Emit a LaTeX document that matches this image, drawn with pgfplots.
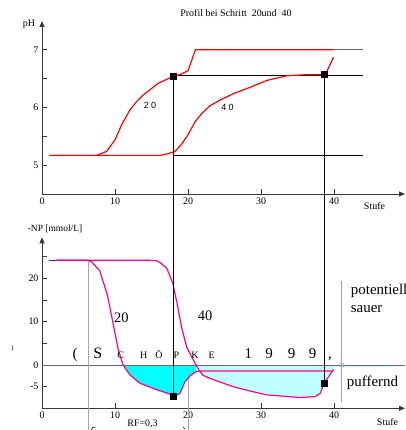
\documentclass[border=0pt]{standalone}
\usepackage{fontspec}
\setmainfont{Liberation Serif}
\newfontfamily\sansf{Liberation Sans}
\usepackage{pgfplots}
\pgfplotsset{compat=1.18}
\usetikzlibrary{arrows.meta}
\definecolor{redc}{RGB}{255,0,0}
\definecolor{pinkc}{RGB}{255,0,140}
\definecolor{purpc}{RGB}{120,20,140}
\definecolor{cyanA}{RGB}{0,255,255}
\definecolor{cyanB}{RGB}{192,255,255}
\definecolor{grayl}{RGB}{165,165,165}
\definecolor{grayd}{RGB}{105,105,105}
\definecolor{axisc}{RGB}{55,55,55}

\pgfplotsset{
  profil/.style={
    scale only axis, anchor=south west, axis lines=left,
    axis line style={axisc, line width=0.9pt, -{Triangle[length=6bp,width=5bp]}},
    tick align=inside, major tick length=5bp, minor tick length=5bp,
    tick style={axisc, line width=0.8pt},
    tick label style={font=\fontsize{10}{12}\selectfont, text=black},
    xmin=0, xmax=49.7, width=363bp, clip=false,
    xtick={0,10,20,30,40}, xticklabels={0,10,20,30,40},
  },
}

\begin{document}
\begin{tikzpicture}
\useasboundingbox (0,0) rectangle (406bp,430bp);

% pH profile after step 20 and 40
\begin{axis}[profil, name=top, at={(42bp,236bp)}, height=173bp,
  ymin=4.5, ymax=7.5, ytick={5,6,7}, yticklabels={5,6,7}, minor ytick={5.5,6.5}]
  \addplot[black, line width=0.7pt] coordinates {(18,6.55)(44,6.55)};
  \addplot[black, line width=0.7pt] coordinates {(18,5.17)(44,5.17)};
  \addplot[grayd, line width=0.9pt] coordinates {(36.9,7.0)(44,7.0)};
  % step 20
  \addplot[redc, line width=1.2pt] coordinates {
    (1,5.17)(7.5,5.17)(8.86,5.24)(10.0,5.44)(10.9,5.70)(12.05,5.96)(13.0,6.11)
    (13.9,6.22)(15.9,6.42)(18.0,6.54)(19.1,6.58)(20.0,6.64)(21.0,7.0)(39.9,7.0)};
  % step 40
  \addplot[redc, line width=1.2pt] coordinates {
    (1,5.17)(16.2,5.17)(17.3,5.20)(18.2,5.24)(19.1,5.36)(20.0,5.53)(21.0,5.76)
    (21.9,5.90)(23.0,6.03)(24.4,6.13)(26.2,6.24)(28.5,6.35)(30.8,6.47)(33.5,6.55)
    (36.3,6.57)(38.8,6.57)(39.9,6.87)};
  \addplot[only marks, mark=square*, mark size=3bp, black] coordinates {(18,6.55)(38.7,6.57)};
  \coordinate (t1) at (axis cs:18,6.55);
  \coordinate (t2) at (axis cs:38.7,6.57);
\end{axis}

% neutralisation potential
\begin{axis}[profil, name=bot, at={(42bp,21.7bp)}, height=171bp,
  ymin=-10, ymax=29.5, ytick={-5,0,10,20}, yticklabels={-5,0,10,20}, minor ytick={5,15,25}]
  \addplot[fill=cyanA, draw=none] coordinates {
    (11.1,0)(12.05,-2.3)(13.4,-4.2)(15.7,-5.7)(17.5,-6.7)(18.2,-7.2)(18.9,-6.5)
    (19.6,-3.8)(20.3,-2.5)(21.1,-1.5)(21.1,0)} -- cycle;
  \addplot[fill=cyanB, draw=none] coordinates {
    (21.1,0)(21.5,-1.2)(22,-2.3)(23,-3.1)(26.2,-5.0)(28,-5.8)(30.8,-6.9)(35.3,-7.5)
    (37.4,-7.3)(38.1,-6.5)(38.6,-4.3)(39.9,-1.0)(39.9,0)} -- cycle;
  \addplot[cyanB, line width=1.5pt] coordinates {(39.9,-0.4)(48,-0.4)};
  \addplot[grayd, line width=0.9pt] coordinates {(0,0)(49.7,0)};
  \addplot[grayl, line width=0.9pt] coordinates {(6.35,24.2)(6.35,-15)};
  \addplot[grayl, line width=0.9pt] coordinates {(20.0,-0.9)(20.0,-15)};
  \addplot[grayl, line width=0.9pt] coordinates {(41.05,19.5)(41.05,-8.5)};
  \addplot[only marks, mark=x, mark size=3bp, grayl, line width=0.8pt] coordinates {(41.05,0)};
  % step 20
  \addplot[purpc, line width=1.2pt] coordinates {(1,24.2)(2,24.2)};
  \addplot[pinkc, line width=1.2pt] coordinates {
    (2,24.2)(6.3,24.2)(6.8,23.8)(7.9,21.8)(8.95,16.2)(9.55,11.2)(10.0,7.3)(10.45,3.5)
    (11.1,0)(12.05,-2.3)(13.4,-4.2)(15.7,-5.7)(17.5,-6.7)(18.2,-7.2)(18.9,-6.5)
    (19.6,-3.8)(20.3,-2.5)(21.1,-1.5)(21.6,-1.4)(39.9,-1.4)};
  % step 40
  \addplot[pinkc, line width=1.2pt] coordinates {
    (2,24.2)(14.6,24.2)(15.7,24.1)(16.2,23.6)(17.1,22.3)(17.9,18.9)(18.5,14.2)
    (19.1,8.8)(19.8,4.2)(20.5,1.9)(21.1,0)(21.5,-1.2)(22,-2.3)(23,-3.1)(26.2,-5.0)
    (28,-5.8)(30.8,-6.9)(35.3,-7.5)(37.4,-7.3)(38.1,-6.5)(38.6,-4.3)(39.9,-1.0)};
  \addplot[only marks, mark=square*, mark size=3bp, black] coordinates {(18,-7.3)(38.7,-4.2)};
  \coordinate (b1) at (axis cs:18,-7.3);
  \coordinate (b2) at (axis cs:38.7,-4.2);
\end{axis}

\draw[black, line width=0.8pt] (t1) -- (b1);
\draw[black, line width=0.8pt] (t2) -- (b2);

% labels
\node[anchor=base, font=\fontsize{10}{12}\selectfont] at (236bp,413.5bp) {Profil bei Schritt\ \ 20und\ \ 40};
\node[anchor=base, font=\fontsize{10}{12}\selectfont] at (29bp,403.3bp) {pH};
\node[anchor=base, font=\fontsize{10}{12}\selectfont] at (374.5bp,220bp) {Stufe};
\node[anchor=base, font=\sansf\fontsize{9}{11}\selectfont] at (150bp,321.7bp) {2 0};
\node[anchor=base, font=\sansf\fontsize{9}{11}\selectfont] at (227.5bp,319.3bp) {4 0};

\node[anchor=base, font=\fontsize{9.5}{11}\selectfont] at (55bp,198.5bp) {-NP [mmol/L]};
\node[anchor=base, font=\fontsize{10}{12}\selectfont] at (387.5bp,5bp) {Stufe};
\node[anchor=base, font=\fontsize{10}{12}\selectfont] at (142.5bp,4bp) {RF=0,3};
\node[anchor=base, font=\fontsize{7}{8}\selectfont] at (12.5bp,79.3bp) {1};
\node[anchor=base, font=\fontsize{14.5}{16}\selectfont] at (121.3bp,107.3bp) {20};
\node[anchor=base, font=\fontsize{14.5}{16}\selectfont] at (205bp,109bp) {40};
\node[anchor=base west, inner sep=0pt, font=\fontsize{15}{17}\selectfont] at (350.7bp,135.7bp) {potentiell};
\node[anchor=base west, inner sep=0pt, font=\fontsize{15}{17}\selectfont] at (350.7bp,117.3bp) {sauer};
\node[anchor=base west, inner sep=0pt, font=\fontsize{15}{17}\selectfont] at (346.7bp,43.3bp) {puffernd};

% spaced citation
\foreach \px/\ch/\fs in {75/(/15, 97.8/S/16, 120.7/C/10, 143.7/H/10, 159/Ö/10, 176.3/P/10,
    195/K/10, 211.7/E/10, 248.3/1/15, 269.2/9/15, 291.5/9/15, 312.5/9/15, 330/{,}/15}
  \node[anchor=base, inner sep=0pt, font=\fontsize{\fs}{\fs}\selectfont] at (\px bp,71bp) {\ch};

% brace fragments below the axis
\draw[line width=0.6pt] (91.5bp,0bp) .. controls (92bp,2.5bp) .. (95.5bp,3bp);
\draw[line width=0.6pt] (183bp,3bp) -- (185bp,1bp);
\end{tikzpicture}
\end{document}
